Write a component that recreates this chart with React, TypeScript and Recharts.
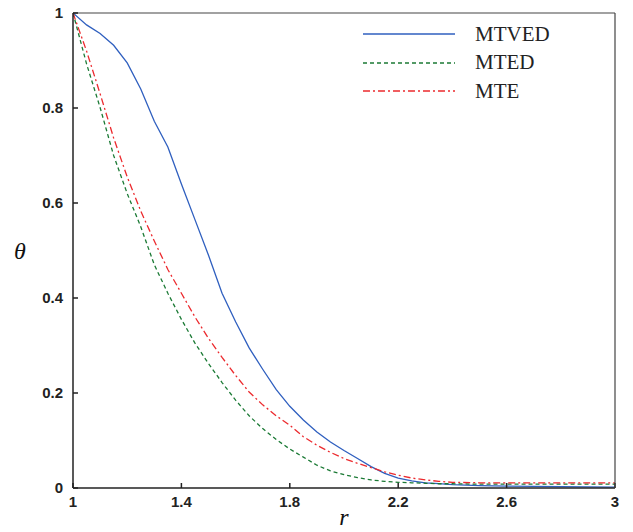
import React from 'react';
import { LineChart, Line, XAxis, YAxis, Legend } from 'recharts';

const rValues = [1, 1.05, 1.1, 1.15, 1.2, 1.25, 1.3, 1.35, 1.4, 1.45, 1.5, 1.55, 1.6, 1.65, 1.7, 1.75, 1.8, 1.85, 1.9, 1.95, 2, 2.05, 2.1, 2.15, 2.2, 2.25, 2.3, 2.35, 2.4, 2.5, 2.6, 2.8, 3];
const mtved = [1, 0.975, 0.957, 0.932, 0.895, 0.84, 0.772, 0.718, 0.64, 0.565, 0.49, 0.41, 0.35, 0.295, 0.25, 0.207, 0.172, 0.143, 0.118, 0.097, 0.079, 0.062, 0.045, 0.031, 0.021, 0.015, 0.011, 0.009, 0.007, 0.005, 0.004, 0.003, 0.002];
const mte = [1, 0.92, 0.83, 0.737, 0.655, 0.583, 0.52, 0.46, 0.41, 0.36, 0.315, 0.275, 0.237, 0.202, 0.175, 0.152, 0.132, 0.108, 0.09, 0.075, 0.062, 0.052, 0.043, 0.034, 0.027, 0.021, 0.017, 0.014, 0.012, 0.011, 0.011, 0.011, 0.011];
const mted = [1, 0.893, 0.801, 0.7, 0.62, 0.55, 0.47, 0.41, 0.355, 0.305, 0.262, 0.222, 0.185, 0.152, 0.125, 0.102, 0.082, 0.065, 0.048, 0.036, 0.028, 0.022, 0.017, 0.014, 0.012, 0.011, 0.01, 0.009, 0.009, 0.008, 0.008, 0.008, 0.008];

const xTicks = [1, 1.4, 1.8, 2.2, 2.6, 3];
const yTicks = [0, 0.2, 0.4, 0.6, 0.8, 1];

const seriesInfo = [
  { key: 'MTVED', color: '#2f5fbf', dash: undefined as string | undefined },
  { key: 'MTED', color: '#1b7a35', dash: '4 3' },
  { key: 'MTE', color: '#ec2a2e', dash: '7 3 2 3' },
];

const data = rValues.map((r, i) => ({ r, MTVED: mtved[i], MTED: mted[i], MTE: mte[i] }));

const tickStyle = { fontFamily: 'Liberation Sans, Arial, sans-serif', fontWeight: 700, fontSize: 15, fill: '#222' };

const LegendContent = () => (
  <div>
    {seriesInfo.map((s) => (
      <div key={s.key} style={{ display: 'flex', alignItems: 'center', height: 28.5 }}>
        <svg width={112} height={10} style={{ display: 'block' }}>
          <line x1={0} y1={5} x2={92} y2={5} stroke={s.color} strokeWidth={1.4} strokeDasharray={s.dash} />
        </svg>
        <span style={{ fontFamily: 'Liberation Serif, Times New Roman, serif', fontSize: 21, color: '#222', lineHeight: '21px' }}>{s.key}</span>
      </div>
    ))}
  </div>
);

export default function App() {
  return (
    <div style={{ position: 'absolute', left: 0, top: 0, width: 633, height: 532, background: '#fff', overflow: 'hidden' }}>
      <LineChart width={633} height={532} data={data} margin={{ top: 12, right: 17, bottom: 14, left: 13 }}>
        <XAxis
          dataKey="r"
          type="number"
          domain={[1, 3]}
          ticks={xTicks}
          allowDataOverflow
          tickSize={-5}
          tickMargin={13}
          height={30}
          stroke="#222"
          strokeWidth={1.5}
          tick={tickStyle}
          label={{ value: 'r', position: 'bottom', offset: -10, style: { fontFamily: 'Liberation Serif, serif', fontStyle: 'italic', fontSize: 24, fill: '#111' } }}
        />
        <XAxis xAxisId="top" dataKey="r" type="number" domain={[1, 3]} orientation="top" height={1} tick={false} tickLine={false} stroke="#444" strokeWidth={1.2} />
        <YAxis
          type="number"
          domain={[0, 1]}
          ticks={yTicks}
          allowDataOverflow
          tickSize={-5}
          tickMargin={15}
          width={60}
          stroke="#222"
          strokeWidth={1.5}
          tick={tickStyle}
          label={{ value: 'θ', position: 'insideLeft', offset: 1, style: { fontFamily: 'Liberation Serif, serif', fontStyle: 'italic', fontSize: 24, fill: '#111' } }}
        />
        <YAxis yAxisId="right" type="number" domain={[0, 1]} orientation="right" width={1} tick={false} tickLine={false} stroke="#444" strokeWidth={1.2} />
        <Legend
          layout="vertical"
          verticalAlign="middle"
          align="center"
          content={<LegendContent />}
          wrapperStyle={{ position: 'absolute', left: 363, top: 20, width: 200 }}
        />
        {seriesInfo.map((s) => (
          <Line
            key={s.key}
            dataKey={s.key}
            stroke={s.color}
            strokeWidth={1.3}
            strokeDasharray={s.dash}
            dot={false}
            type="linear"
            isAnimationActive={false}
          />
        ))}
      </LineChart>
    </div>
  );
}
